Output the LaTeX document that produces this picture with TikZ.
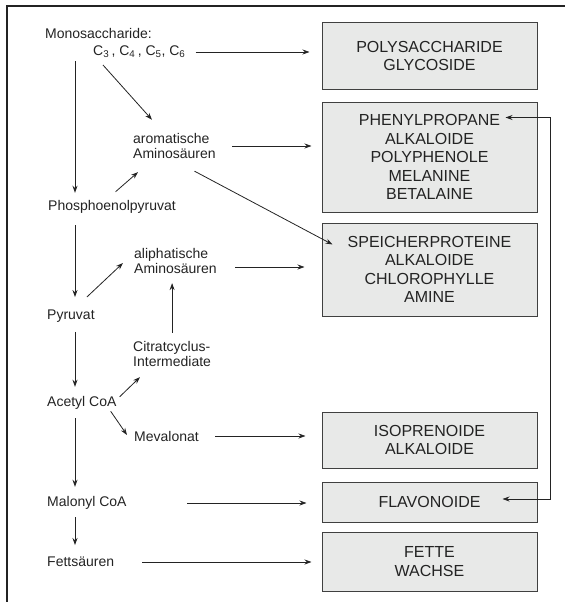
\documentclass[tikz,border=0pt]{standalone}
\usepackage{fontspec}
\setmainfont{Liberation Sans}
\usetikzlibrary{arrows.meta}
\definecolor{boxgray}{RGB}{232,233,232}
\definecolor{ink}{RGB}{35,35,35}

\begin{document}
\begin{tikzpicture}[x=1pt, y=-1pt, color=ink,
		lbl/.style={anchor=west, inner sep=0pt, align=left, font=\fontsize{14}{15}\selectfont},
		stoff/.style={draw=black!75, fill=boxgray, line width=1pt, minimum width=215pt,
			minimum height=#1, inner sep=0pt, align=center, font=\fontsize{16}{18.5}\selectfont},
		pfeil/.style={-{Stealth[length=7pt,width=5pt]}, line width=0.8pt}]
				\useasboundingbox (0,0) rectangle (565,602);

				% Frame
				\draw[line width=1.2pt] (7,602) -- (7,6) -- (565,6);

				% Left column
				\node[lbl] (mono) at (45,33) {Monosaccharide:};
				\node[lbl] (cs) at (93,52) {C\textsubscript{3}\,, C\textsubscript{4}\,, C\textsubscript{5}, C\textsubscript{6}};
				\node[lbl] (pep) at (48,207) {Phosphoenolpyruvat};
				\node[lbl] (pyr) at (47,316) {Pyruvat};
				\node[lbl] (acetyl) at (47,403) {Acetyl CoA};
				\node[lbl] (malonyl) at (47,503) {Malonyl CoA};
				\node[lbl] (fett) at (47,562) {Fettsäuren};

				% Middle column
				\node[lbl] (arom) at (133,146) {aromatische\\Aminosäuren};
				\node[lbl] (aliph) at (134,261) {aliphatische\\Aminosäuren};
				\node[lbl] (citr) at (133,354) {Citratcyclus-\\Intermediate};
				\node[lbl] (meva) at (134,436) {Mevalonat};

				% Products
				\node[stoff=66pt] (poly) at (429.5,56) {POLYSACCHARIDE\\GLYCOSIDE};
				\node[stoff=110pt] (phen) at (429.5,157) {PHENYLPROPANE\\ALKALOIDE\\POLYPHENOLE\\MELANINE\\BETALAINE};
				\node[stoff=93pt] (spei) at (429.5,269.5) {SPEICHERPROTEINE\\ALKALOIDE\\CHLOROPHYLLE\\AMINE};
				\node[stoff=56pt] (iso) at (429.5,440) {ISOPRENOIDE\\ALKALOIDE};
				\node[stoff=40pt] (flav) at (429.5,502) {FLAVONOIDE};
				\node[stoff=59pt] (fette) at (429.5,561.5) {FETTE\\WACHSE};

				\coordinate (col) at (75,0);
				\coordinate (rail) at (550,0);

				% Main chain
				\draw[pfeil, shorten <=2.8pt, shorten >=7.5pt] (cs.south -| col) -- (pep.north -| col);
				\draw[pfeil, shorten <=11.5pt, shorten >=12.5pt] (pep.south -| col) -- (pyr.north -| col);
				\draw[pfeil, shorten <=9.5pt, shorten >=9.5pt] (pyr.south -| col) -- (acetyl.north -| col);
				\draw[pfeil, shorten <=8.5pt, shorten >=9.5pt] (acetyl.south -| col) -- (malonyl.north -| col);
				\draw[pfeil, shorten <=7.5pt, shorten >=11.9pt] (malonyl.south -| col) -- (fett.north -| col);

				% Side branches
				\draw[pfeil] ([shift={(10,6.8)}]cs.south west) -- ([shift={(19,-13.4)}]arom.north west);
				\draw[pfeil] ([shift={(3.5,-8.5)}]pep.north) -- ([shift={(5,13.3)}]arom.south west);
				\draw[pfeil] ([shift={(-8,-12.5)}]pyr.north east) -- ([shift={(-11,2)}]aliph.west);
				\draw[pfeil, shorten <=8.4pt, shorten >=9.3pt] (citr.north) -- (aliph.south -| citr.north);
				\draw[pfeil] ([shift={(3,0.5)}]acetyl.north east) -- ([shift={(7,10.3)}]citr.south west);
				\draw[pfeil] ([shift={(-6,1.5)}]acetyl.south east) -- ([shift={(-7,-1)}]meva.west);

				% To products
				\draw[pfeil, shorten <=10pt, shorten >=12pt] (cs.east) -- (cs.east -| poly.west);
				\draw[pfeil, shorten <=16.5pt, shorten >=10pt] (arom.east) -- (arom.east -| phen.west);
				\draw[pfeil] ([shift={(20,12.3)}]arom.south) -- ([shift={(11,22)}]spei.north west);
				\draw[pfeil, shorten <=18.5pt, shorten >=17pt] ([shift={(0,6)}]aliph.east) -- ([shift={(0,6)}]aliph.east -| spei.west);
				\draw[pfeil, shorten <=16.4pt, shorten >=16pt] (meva.east) -- (meva.east -| iso.west);
				\draw[pfeil, shorten <=60.6pt, shorten >=15pt] (malonyl.east) -- (malonyl.east -| flav.west);
				\draw[pfeil, shorten <=28pt, shorten >=10pt] (fett.east) -- (fett.east -| fette.west);

				% Flavonoide - Phenylpropane
				\coordinate (phenin) at ([shift={(-32,16)}]phen.north east);
				\coordinate (flavin) at ([shift={(-35,-3)}]flav.east);
				\draw[pfeil, {Stealth[length=7pt,width=5pt]}-{Stealth[length=7pt,width=5pt]}] (phenin) -- (phenin -| rail) -- (flavin -| rail) -- (flavin);
\end{tikzpicture}
\end{document}
